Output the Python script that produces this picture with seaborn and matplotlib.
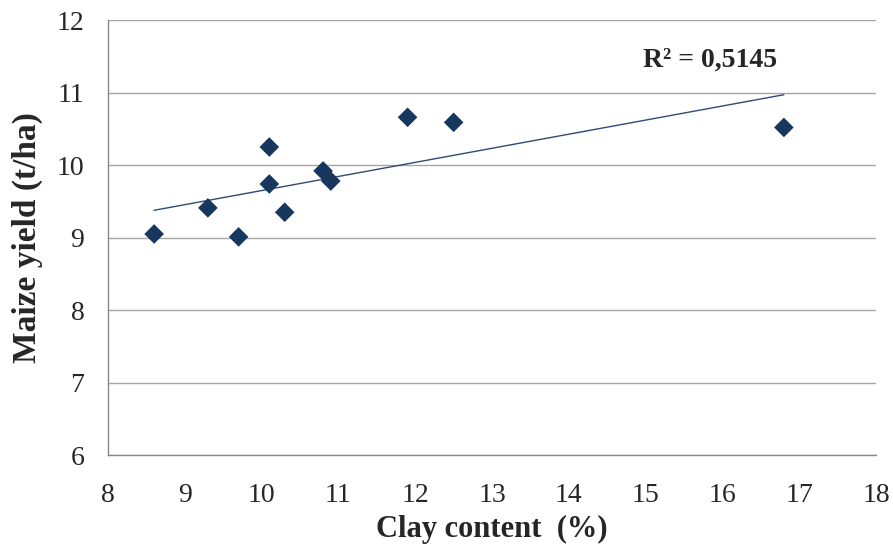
import matplotlib
matplotlib.use("Agg")
import matplotlib.pyplot as plt
import seaborn as sns
import pandas as pd

clay = [8.6, 9.3, 9.7, 10.1, 10.1, 10.3, 10.8, 10.9, 11.9, 12.5, 16.8]
yield_t = [9.05, 9.41, 9.01, 10.25, 9.74, 9.35, 9.92, 9.78, 10.66, 10.59, 10.52]
x_ticks = [8, 9, 10, 11, 12, 13, 14, 15, 16, 17, 18]
y_ticks = [6, 7, 8, 9, 10, 11, 12]
r2_label = "R² = 0,5145"

df = pd.DataFrame({"clay": clay, "yield": yield_t})

sns.set_style("white")
plt.rcParams['font.family'] = ['Liberation Serif', 'DejaVu Serif']

fig = plt.figure(figsize=(8.93, 5.45), dpi=100)
ax = fig.add_axes([0.121, 0.165, 0.860, 0.798])

navy = "#17375E"
sns.regplot(data=df, x="clay", y="yield", ax=ax, ci=None, truncate=True,
            marker="D",
            scatter_kws={"s": 100, "color": navy, "alpha": 1.0,
                         "edgecolor": "none", "zorder": 3},
            line_kws={"color": "#2F4A75", "linewidth": 1.0, "zorder": 2})

ax.set_xlim(8, 18)
ax.set_ylim(6, 12)
ax.set_xticks(x_ticks)
ax.set_yticks(y_ticks)
ax.yaxis.grid(True, color="#A6A6A6", linewidth=1.0)
ax.set_axisbelow(True)
for s in ["top", "right"]:
    ax.spines[s].set_visible(False)
for s in ["left", "bottom"]:
    ax.spines[s].set_color("#888888")
    ax.spines[s].set_linewidth(1.0)

ax.tick_params(axis="both", which="both", labelsize=20, color="#888888",
               length=5, width=1.0, direction="out")
ax.tick_params(axis="y", pad=12)
ax.tick_params(axis="x", pad=15)

ax.set_xlabel("Clay content  (%)", fontsize=22, fontweight="bold", labelpad=5)
ax.set_ylabel("Maize yield (t/ha)", fontsize=24, fontweight="bold", labelpad=10)

ax.text(15.84, 11.45, r2_label, fontsize=20, fontweight="bold", ha="center", va="center")

fig.savefig("out.png", dpi=100)
